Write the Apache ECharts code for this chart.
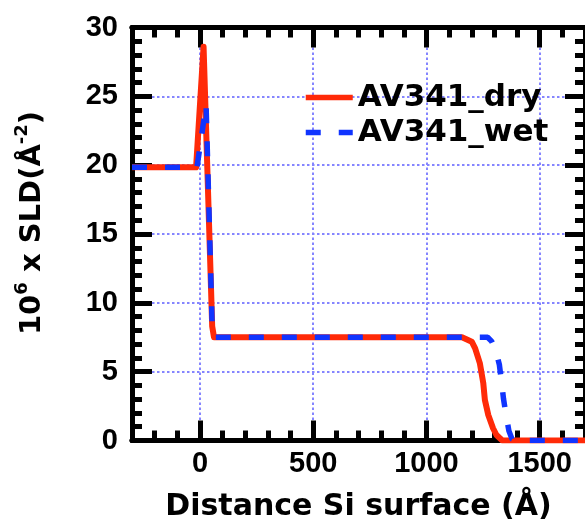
<!DOCTYPE html>
<html lang="en">
<head>
    <meta charset="UTF-8">
    <title>SLD profile</title>
    <script src="https://cdn.jsdelivr.net/npm/echarts@6/dist/echarts.min.js"></script>
</head>
<body style="margin:0">
<div id="main" style="width: 585px;height:529px;"></div>

<script>
    // SLD profiles, x in Angstrom from the Si surface
    var dryX = [-300, -17, 16, 49, 54, 62, 1157, 1200, 1215, 1236, 1251, 1258, 1273, 1294, 1309, 1335, 1700];
    var dryY = [19.85, 19.85, 28.6, 11, 8.3, 7.5, 7.5, 7.18, 6.69, 5.6, 4.15, 2.94, 1.85, 0.89, 0.4, 0, 0];
    var wetX = [-300, -13, 27, 54, 62, 1270, 1288, 1305, 1322, 1332, 1340, 1352, 1364, 1378, 1392, 1700];
    var wetY = [19.85, 19.85, 24.4, 8.3, 7.5, 7.5, 7.2, 6.6, 5.5, 4.2, 3.05, 1.8, 0.7, 0.1, 0, 0];

    var xMajor = [0, 500, 1000, 1500];
    var xMinor = [-200, -100, 100, 200, 300, 400, 600, 700, 800, 900, 1100, 1200, 1300, 1400, 1600];

    function pairs(xs, ys) {
        var out = [];
        for (var i = 0; i < xs.length; i++) {
            out.push([xs[i], ys[i]]);
        }
        return out;
    }

    var labelFont = {
        color: '#000',
        fontFamily: 'Liberation Sans',
        fontWeight: 'bold',
        fontSize: 29,
        formatter: function (v) { return String(v); }
    };
    var gridLine = {
        show: true,
        lineStyle: {color: '#8585ff', width: 2, type: [2.5, 2.5]}
    };
    var axisLine = {show: true, onZero: false, lineStyle: {color: '#000', width: 5}};

    function xAx(pos, ticks, len, main) {
        return {
            type: 'value',
            position: pos,
            min: -300,
            max: 1700,
            interval: 100,
            axisLine: axisLine,
            axisTick: {show: true, inside: true, length: len, customValues: ticks,
                lineStyle: {color: '#000', width: 5}},
            axisLabel: main ? Object.assign({show: true, margin: 9, customValues: xMajor}, labelFont) : {show: false},
            splitLine: main ? gridLine : {show: false},
            name: main ? 'Distance Si surface (Å)' : '',
            nameLocation: 'middle',
            nameGap: 52,
            nameTextStyle: {color: '#000', fontFamily: 'DejaVu Sans', fontWeight: 'bold', fontSize: 30}
        };
    }

    function yAx(pos, main) {
        return {
            type: 'value',
            position: pos,
            min: 0,
            max: 30,
            interval: 5,
            axisLine: axisLine,
            axisTick: {show: true, inside: true, length: 20, lineStyle: {color: '#000', width: 5}},
            minorTick: {show: true, splitNumber: 5, length: 10, lineStyle: {color: '#000', width: 5}},
            axisLabel: main ? Object.assign({show: true, margin: 14}, labelFont) : {show: false},
            splitLine: main ? gridLine : {show: false},
            name: main ? '{a|10}{s|6}{a| x SLD(Å}{s|-2}{a|)}' : '',
            nameLocation: 'middle',
            nameRotate: 90,
            nameGap: 85,
            nameTextStyle: {
                color: '#000',
                padding: [0, 0, 0, 22],
                rich: {
                    a: {fontFamily: 'DejaVu Sans', fontWeight: 'bold', fontSize: 29, lineHeight: 34, verticalAlign: 'bottom'},
                    s: {fontFamily: 'DejaVu Sans', fontWeight: 'bold', fontSize: 18, lineHeight: 18, verticalAlign: 'top'}
                }
            }
        };
    }

    var chart = echarts.init(document.getElementById('main'));
    var option = {
        animation: false,
        grid: {left: 132, top: 27.5, width: 459.5, height: 413, containLabel: false},
        legend: {
            orient: 'vertical',
            left: 303,
            top: 82,
            padding: 0,
            itemGap: 4,
            itemWidth: 47,
            itemHeight: 14,
            itemStyle: {opacity: 0},
            lineStyle: {width: 5.5},
            textStyle: {color: '#000', fontFamily: 'DejaVu Sans', fontWeight: 'bold', fontSize: 31},
            data: ['AV341_dry', 'AV341_wet']
        },
        xAxis: [
            xAx('bottom', xMajor, 20, true),
            xAx('bottom', xMinor, 10, false),
            xAx('top', xMajor, 20, false),
            xAx('top', xMinor, 10, false)
        ],
        yAxis: [
            yAx('left', true),
            yAx('right', false)
        ],
        series: [
            {
                name: 'AV341_dry',
                type: 'line',
                symbol: 'none',
                color: '#ff2a08',
                lineStyle: {width: 6, color: '#ff2a08', join: 'round'},
                data: pairs(dryX, dryY)
            },
            {
                name: 'AV341_wet',
                type: 'line',
                symbol: 'none',
                color: '#1034ff',
                lineStyle: {width: 5.5, color: '#1034ff', type: [15, 18]},
                data: pairs(wetX, wetY)
            }
        ]
    };
    chart.setOption(option);
</script>
</body>
</html>
